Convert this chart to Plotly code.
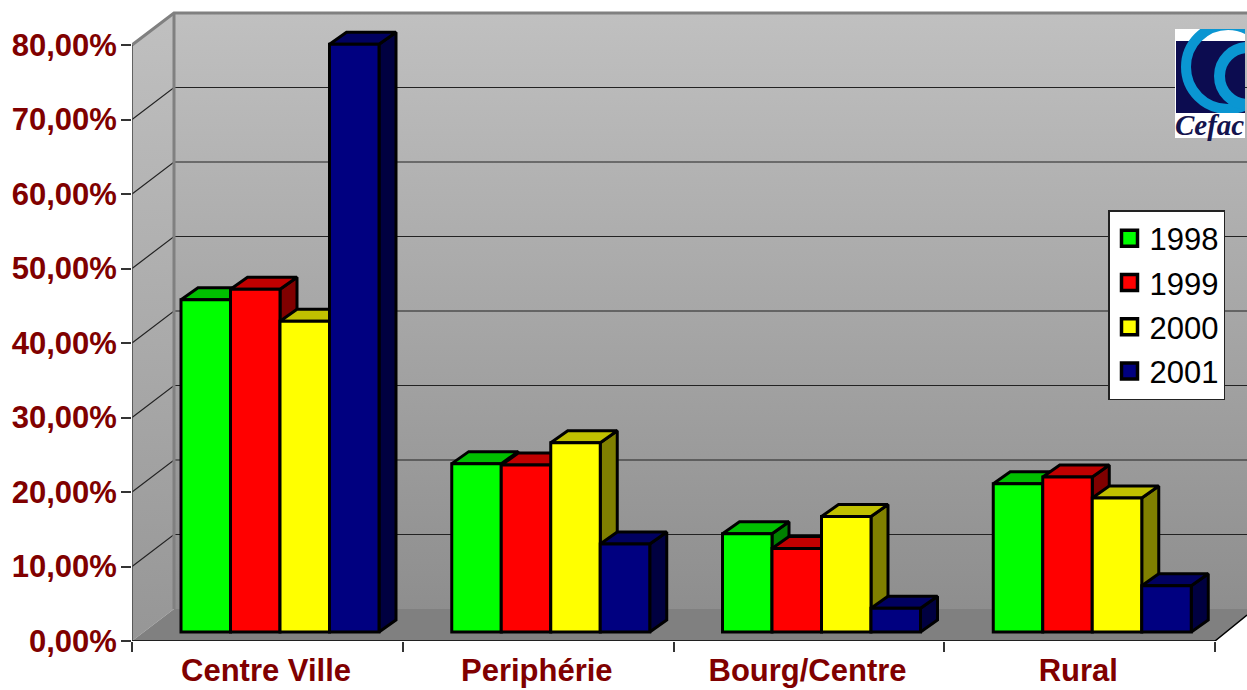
import base64
import plotly.graph_objects as go

# ---- data ----
categories = ["Centre Ville", "Periphérie", "Bourg/Centre", "Rural"]
years = ["1998", "1999", "2000", "2001"]
v1998 = [44.6, 22.6, 13.2, 19.9]
v1999 = [46.0, 22.4, 11.2, 20.8]
v2000 = [41.7, 25.4, 15.5, 18.0]
v2001 = [78.9, 11.8, 3.2, 6.2]
series = [v1998, v1999, v2000, v2001]
y_ticks = [0, 10, 20, 30, 40, 50, 60, 70, 80]
y_labels = ["0,00%", "10,00%", "20,00%", "30,00%", "40,00%", "50,00%", "60,00%", "70,00%", "80,00%"]

# ---- styling ----
front = ["#00ff00", "#ff0000", "#ffff00", "#000080"]
topc = ["#00c000", "#c00000", "#c0c000", "#000060"]
sidec = ["#008000", "#800000", "#808000", "#000040"]
RED = "#800000"
W, H = 1247, 690
ML, MB = 132, 49
UX, UY = 270.75, 596 / 80          # pixels per category / per percent
XR = (W - ML) / UX
YR = (H - MB) / UY
WALL_DX, WALL_DY = 42 / UX, 32 / UY
BAR_DX, BAR_DY = 17 / UX, 12 / UY
LIFT = 9 / UY
BAR_W = 49.5 / UX
BAR_X0 = 49 / UX
RIGHT_Y = 26 / UY
GRAD = [[0, "#8e8e8e"], [1, "#c0c0c0"]]

fig = go.Figure()


def poly(xs, ys, **kw):
    fig.add_trace(go.Scatter(x=xs, y=ys, mode="lines", showlegend=False, hoverinfo="skip", cliponaxis=False, **kw))


# back wall, side wall, floor
poly([WALL_DX, XR, XR, WALL_DX, WALL_DX], [WALL_DY, WALL_DY, 80 + WALL_DY, 80 + WALL_DY, WALL_DY],
     fill="toself", line=dict(width=0), fillgradient=dict(type="vertical", colorscale=GRAD))
poly([0, WALL_DX, WALL_DX, 0, 0], [0, WALL_DY, 80 + WALL_DY, 80, 0],
     fill="toself", line=dict(width=0), fillgradient=dict(type="vertical", colorscale=[[0, "#969696"], [1, "#c0c0c0"]]))
poly([0, WALL_DX, XR, XR, 4, 0], [0, WALL_DY, WALL_DY, RIGHT_Y, 0, 0],
     fill="toself", fillcolor="#808080", line=dict(width=0))

# gridlines
for t in y_ticks[1:-1]:
    poly([0, WALL_DX, XR], [t, t + WALL_DY, t + WALL_DY], line=dict(color="#222222", width=1.2))

# wall frames
poly([WALL_DX, WALL_DX], [WALL_DY, 80 + WALL_DY], line=dict(color="#808080", width=3))
poly([0, WALL_DX, XR], [80, 80 + WALL_DY, 80 + WALL_DY], line=dict(color="#808080", width=3))
poly([0, 0], [0, 80], line=dict(color="#444444", width=1.5))
poly([0, 4, XR], [0, 0, RIGHT_Y], line=dict(color="#000000", width=1.5))

# top and side faces, left to right
for k in range(len(categories)):
    for s, vals in enumerate(series):
        x0 = k + BAR_X0 + s * BAR_W
        x1 = x0 + BAR_W
        y0 = LIFT
        y1 = LIFT + vals[k]
        poly([x1, x1 + BAR_DX, x1 + BAR_DX, x1, x1], [y0, y0 + BAR_DY, y1 + BAR_DY, y1, y0],
             fill="toself", fillcolor=sidec[s], line=dict(color="#000000", width=3))
        poly([x0, x0 + BAR_DX, x1 + BAR_DX, x1, x0], [y1, y1 + BAR_DY, y1 + BAR_DY, y1, y1],
             fill="toself", fillcolor=topc[s], line=dict(color="#000000", width=3))

# front faces, on the overlaying axes
for s, (year, vals) in enumerate(zip(years, series)):
    fig.add_trace(go.Bar(
        x=[k + BAR_X0 + (s + 0.5) * BAR_W for k in range(len(categories))], y=vals, base=LIFT, width=BAR_W,
        marker=dict(color=front[s], line=dict(color="#000000", width=3)),
        xaxis="x2", yaxis="y2", showlegend=False, name=year, cliponaxis=False))

# legend entries
for s, year in enumerate(years):
    fig.add_trace(go.Scatter(x=[None], y=[None], mode="markers", name=year, legendgroup=year,
                             marker=dict(symbol="square", size=16, color=front[s], line=dict(color="#000000", width=3.5))))

logo_svg = """<svg xmlns="http://www.w3.org/2000/svg" width="70" height="109" viewBox="0 0 70 109">
<rect width="70" height="109" fill="#ffffff"/>
<clipPath id="c"><rect x="0" y="0" width="70" height="84"/></clipPath>
<rect x="1" y="12" width="69" height="72" fill="#0c0c50"/>
<g clip-path="url(#c)" fill="none" stroke="#0a96d2">
<circle cx="53" cy="38" r="42" stroke-width="10"/>
<circle cx="73" cy="47" r="28.5" stroke-width="11"/>
</g></svg>"""
logo_uri = "data:image/svg+xml;base64," + base64.b64encode(logo_svg.encode()).decode()

axis_font = dict(family="Liberation Sans", size=31, color=RED, weight="bold")
fig.update_layout(
    width=W, height=H, margin=dict(l=ML, r=0, t=0, b=MB, pad=0, autoexpand=False),
    paper_bgcolor="#ffffff", plot_bgcolor="#ffffff", barmode="overlay",
    xaxis=dict(range=[0, XR], automargin=False, tickmode="array", tickvals=[k + 0.495 for k in range(4)], ticktext=categories,
               showgrid=False, zeroline=False, showline=False, ticks="", tickfont=axis_font, ticklabelstandoff=8,
               minor=dict(tickmode="array", tickvals=[0, 1, 2, 3, 4], ticks="outside", ticklen=10, tickwidth=1.5,
                          tickcolor="#333333", showgrid=False)),
    yaxis=dict(range=[0, YR], automargin=False, tickmode="array", tickvals=y_ticks, ticktext=y_labels, showgrid=False, zeroline=False,
               showline=False, ticks="outside", ticklen=10, tickwidth=1.5, tickcolor="#333333", tickfont=axis_font,
               ticklabelstandoff=-2),
    xaxis2=dict(range=[0, XR], overlaying="x", visible=False),
    yaxis2=dict(range=[0, YR], overlaying="y", visible=False),
    legend=dict(x=(1108 - ML) / (W - ML), y=(H - MB - 210) / (H - MB), xanchor="left", yanchor="top",
                bgcolor="#ffffff", bordercolor="#222222", borderwidth=1.5, tracegroupgap=1,
                font=dict(family="Liberation Sans", size=31, color="#000000")),
    images=[dict(source=logo_uri, xref="paper", yref="paper", x=(1175 - ML) / (W - ML), y=(H - MB - 29) / (H - MB),
                 sizex=70 / (W - ML), sizey=109 / (H - MB), sizing="stretch", xanchor="left", yanchor="top", layer="above")],
    annotations=[dict(text="<b><i>Cefac</i></b>", xref="paper", yref="paper", x=(1174 - ML) / (W - ML),
                      y=(H - MB - 142) / (H - MB), xanchor="left", yanchor="bottom", showarrow=False,
                      font=dict(family="Liberation Serif", size=29, color="#14144e"), borderpad=0)],
)

fig.write_html("out.html", post_script="document.body.style.margin='0';", config={"displayModeBar": False})
